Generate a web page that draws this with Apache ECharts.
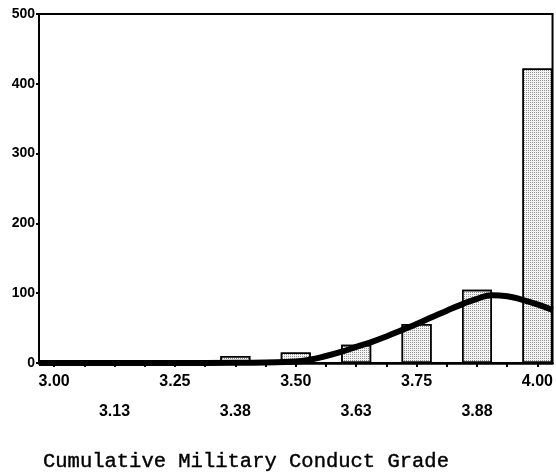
<!DOCTYPE html>
<html>
<head>
<meta charset="utf-8">
<script src="https://cdn.jsdelivr.net/npm/echarts@6/dist/echarts.min.js"></script>
<style>
html,body{margin:0;padding:0;background:#fff;}
#chart{width:556px;height:474px;}
</style>
</head>
<body>
<div id="chart"></div>
<script>
// Grade categories (bar centres) and their printed labels
const grades = [3.000, 3.125, 3.250, 3.375, 3.500, 3.625, 3.750, 3.875, 4.000];
const tickLabels = ['3.00', '3.13', '3.25', '3.38', '3.50', '3.63', '3.75', '3.88', '4.00'];
// Frequencies
const counts = [1, 3, 2, 10, 15, 26, 56, 105, 422];
// Tick positions along the x axis (centres and half steps)
const xTicks = [3.0, 3.0625, 3.125, 3.1875, 3.25, 3.3125, 3.375, 3.4375, 3.5, 3.5625, 3.625, 3.6875, 3.75, 3.8125, 3.875, 3.9375, 4.0];
// Fitted normal curve
const curveX = [2.96875, 3.125, 3.25, 3.375, 3.4375, 3.5, 3.53125, 3.5625, 3.59375, 3.625, 3.65625, 3.6875, 3.71875, 3.75, 3.78125, 3.8125, 3.84375, 3.875, 3.90625, 3.9375, 3.96875, 4.0, 4.03125];
const curveY = [0, 0, 0, 0.3, 0.8, 2, 5, 10, 16, 23, 30, 38, 47, 56, 65.5, 75, 84, 92, 97, 95.5, 90.5, 84, 76];
const yTicks = [0, 100, 200, 300, 400, 500];
const xTitle = 'Cumulative Military Conduct Grade';

const chart = echarts.init(document.getElementById('chart'), null, {renderer: 'canvas'});
const labelFont = "'Liberation Sans Narrow', 'Arial Narrow', 'Liberation Sans', Arial, sans-serif";

chart.setOption({
  animation: false,
  backgroundColor: '#fff',
  title: {
    text: xTitle,
    left: 38,
    top: 446,
    textStyle: {
      fontFamily: "'Liberation Mono', 'Courier New', monospace",
      fontSize: 20.5,
      fontWeight: 'normal',
      color: '#000',
      textBorderColor: '#000',
      textBorderWidth: 0.4
    }
  },
  grid: {
    left: 39, right: 3, top: 14, bottom: 111,
    show: true, borderColor: '#000', borderWidth: 2, backgroundColor: 'transparent'
  },
  xAxis: {
    type: 'value',
    min: 2.96875,
    max: 4.03125,
    splitLine: {show: false},
    axisLine: {show: true, onZero: false, lineStyle: {color: '#000', width: 2.5}},
    axisTick: {show: true, customValues: xTicks, length: 4, lineStyle: {color: '#000', width: 2}},
    axisLabel: {
      customValues: grades,
      margin: 4,
      lineHeight: 30,
      color: '#000',
      fontFamily: labelFont,
      fontWeight: 'bold',
      fontSize: 16,
      formatter: function (v) {
        const i = grades.findIndex(g => Math.abs(g - v) < 1e-6);
        if (i < 0) return '';
        return i % 2 === 0 ? tickLabels[i] : '\n' + tickLabels[i];
      }
    }
  },
  yAxis: {
    type: 'value',
    min: 0,
    max: 500,
    interval: 100,
    splitLine: {show: false},
    axisLine: {show: true, lineStyle: {color: '#000', width: 2}},
    axisTick: {show: true, length: 3, lineStyle: {color: '#000', width: 2}},
    axisLabel: {
      margin: 4,
      color: '#000',
      fontFamily: "'Liberation Sans', Arial, sans-serif",
      fontWeight: 'bold',
      fontSize: 14,
      formatter: function (v) { return yTicks.indexOf(v) >= 0 ? String(v) : ''; }
    }
  },
  series: [
    {
      type: 'bar',
      barWidth: 30,
      data: grades.map((g, i) => [g, counts[i]]),
      itemStyle: {
        color: '#f4f4f4',
        borderColor: '#000',
        borderWidth: 1.5,
        decal: {
          symbol: 'rect',
          symbolSize: 1,
          dashArrayX: [1, 1],
          dashArrayY: [1, 1],
          rotation: 0,
          color: 'rgba(0,0,0,0.4)'
        }
      },
      z: 2
    },
    {
      type: 'line',
      data: curveX.map((x, i) => [x, curveY[i]]),
      smooth: 0.5,
      showSymbol: false,
      symbol: 'none',
      clip: true,
      lineStyle: {color: '#000', width: 6},
      z: 3
    }
  ]
});
</script>
</body>
</html>
